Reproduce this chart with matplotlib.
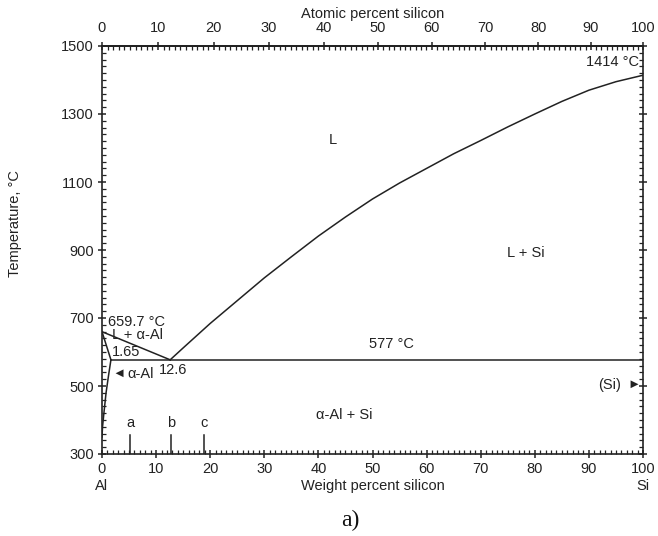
import numpy as np
import matplotlib
matplotlib.use("Agg")
import matplotlib.pyplot as plt
from matplotlib.ticker import MultipleLocator

plt.rcParams['font.family'] = ['Liberation Sans', 'DejaVu Sans']

# liquidus on the Si side (wt% Si, deg C)
liq_si_wt = [12.6, 15, 20, 25, 30, 35, 40, 45, 50, 55, 60, 65, 70, 75, 80, 85, 90, 95, 100]
liq_si_T = [577, 612, 684, 751, 818, 880, 941, 997, 1050, 1097, 1140, 1183,
            1222, 1262, 1300, 1337, 1370, 1395, 1414]

# liquidus / solidus on the Al side
liq_al_wt = [0, 12.6]
liq_al_T = [659.7, 577]
sol_al_wt = [0, 1.65]
sol_al_T = [659.7, 577]

# solvus of alpha-Al
solvus_wt = [1.65, 1.2, 0.75, 0.35, 0.1, 0]
solvus_T = [577, 530, 480, 420, 380, 350]

# eutectic line
eut_wt = [1.65, 100]
eut_T = [577, 577]

# alloy markers a, b, c
alloy_names = ['a', 'b', 'c']
alloy_wt = [5.2, 12.7, 18.9]

xticks = list(range(0, 101, 10))
yticks = list(range(300, 1501, 200))

M_AL = 26.9815
M_SI = 28.0855


def wt_to_at(w):
    w = np.asarray(w, dtype=float)
    return 100 * (w / M_SI) / (w / M_SI + (100 - w) / M_AL)


def at_to_wt(a):
    a = np.asarray(a, dtype=float)
    return 100 * (a * M_SI) / (a * M_SI + (100 - a) * M_AL)


fig = plt.figure(figsize=(6.58, 5.36), dpi=100)
ax = fig.add_axes([102 / 658, 1 - 454 / 536, 541 / 658, 408 / 536])

lc = '#222222'
lw = 1.1
ax.plot(liq_si_wt, liq_si_T, color=lc, lw=lw)
ax.plot(liq_al_wt, liq_al_T, color=lc, lw=lw)
ax.plot(sol_al_wt, sol_al_T, color=lc, lw=lw)
ax.plot(solvus_wt, solvus_T, color=lc, lw=lw)
ax.plot(eut_wt, eut_T, color=lc, lw=lw)
for name, w in zip(alloy_names, alloy_wt):
    ax.plot([w, w], [300, 356], color=lc, lw=lw)
    ax.text(w, 391, name, ha='center', va='center', fontsize=10.5, color=lc)

ax.set_xlim(0, 100)
ax.set_ylim(300, 1500)
ax.set_xticks(xticks)
ax.set_yticks(yticks)
ax.xaxis.set_minor_locator(MultipleLocator(1))
ax.yaxis.set_minor_locator(MultipleLocator(20))
ax.tick_params(which='major', direction='inout', length=6, width=1.1, labelsize=10.5,
               colors=lc, right=True, pad=3)
ax.tick_params(which='minor', direction='in', length=3, width=0.9, right=True, colors=lc)
for s in ax.spines.values():
    s.set_linewidth(1.2)
    s.set_color(lc)

top = ax.secondary_xaxis('top', functions=(wt_to_at, at_to_wt))
top.set_xticks(xticks)
top.xaxis.set_minor_locator(MultipleLocator(1))
top.tick_params(which='major', direction='inout', length=6, width=1.1, labelsize=10.5,
                colors=lc, pad=5)
top.tick_params(which='minor', direction='in', length=3, width=0.9, colors=lc)
top.spines['top'].set_linewidth(1.2)
top.set_xlabel('Atomic percent silicon', fontsize=10.5, color=lc, labelpad=2)

ax.set_ylabel('Temperature, °C', fontsize=10.5, color=lc)
ax.yaxis.set_label_coords(-0.148, 0.566)

xt = ax.get_xaxis_transform()
ax.text(0.5, -0.078, 'Weight percent silicon', transform=ax.transAxes,
        ha='center', va='center', fontsize=10.5, color=lc)
ax.text(0, -0.078, 'Al', transform=xt, ha='center', va='center', fontsize=10.5, color=lc)
ax.text(100, -0.078, 'Si', transform=xt, ha='center', va='center', fontsize=10.5, color=lc)

# region and point labels
fs = 10.5
ax.text(42.6, 1224, 'L', ha='center', va='center', fontsize=fs, color=lc)
ax.text(78.4, 891, 'L + Si', ha='center', va='center', fontsize=fs, color=lc)
ax.text(44.8, 415, 'α-Al + Si', ha='center', va='center', fontsize=fs, color=lc)
ax.text(53.5, 623, '577 °C', ha='center', va='center', fontsize=fs, color=lc)
ax.text(99.3, 1453, '1414 °C', ha='right', va='center', fontsize=fs, color=lc)
ax.text(96.0, 503, '(Si)', ha='right', va='center', fontsize=fs, color=lc)
ax.text(99.6, 503, '►', ha='right', va='center', fontsize=9.5, color=lc)
ax.text(1.2, 688, '659.7 °C', ha='left', va='center', fontsize=fs, color=lc)
ax.text(1.9, 650, 'L + α-Al', ha='left', va='center', fontsize=fs, color=lc)
ax.text(1.85, 600, '1.65', ha='left', va='center', fontsize=fs, color=lc)
ax.text(13.1, 547, '12.6', ha='center', va='center', fontsize=fs, color=lc)
ax.text(2.0, 535, '◄', ha='left', va='center', fontsize=9.5, color=lc)
ax.text(4.6, 535, 'α-Al', ha='left', va='center', fontsize=fs, color=lc)

fig.text(350 / 658, 1 - 520 / 536, 'a)', ha='center', va='center', fontsize=17,
         family=['Liberation Serif', 'DejaVu Serif'], color='#111111')

fig.savefig('out.png', dpi=100)
